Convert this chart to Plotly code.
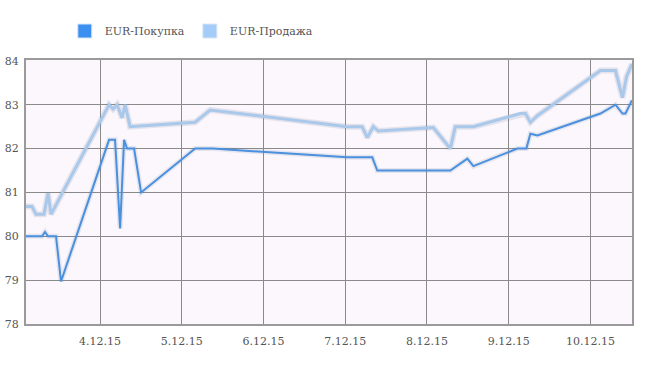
import plotly.graph_objects as go

# Data
buy_times = [
    "2015-12-03 02:15", "2015-12-03 06:57", "2015-12-03 07:50", "2015-12-03 08:43",
    "2015-12-03 11:04", "2015-12-03 12:32", "2015-12-04 02:38", "2015-12-04 04:24",
    "2015-12-04 05:53", "2015-12-04 07:03", "2015-12-04 07:56", "2015-12-04 09:59",
    "2015-12-04 12:03", "2015-12-05 03:55", "2015-12-05 09:13", "2015-12-07 00:35",
    "2015-12-07 07:56", "2015-12-07 09:24", "2015-12-08 06:51", "2015-12-08 11:51",
    "2015-12-08 13:37", "2015-12-09 02:32", "2015-12-09 05:11", "2015-12-09 06:22",
    "2015-12-09 08:25", "2015-12-10 02:56", "2015-12-10 07:21", "2015-12-10 09:24",
    "2015-12-10 10:17", "2015-12-10 12:12",
]
buy_values = [
    80.0, 80.0, 80.1, 80.0,
    80.0, 78.97, 82.2, 82.2,
    80.18, 82.2, 82.0, 82.0,
    81.0, 82.0, 82.0, 81.8,
    81.8, 81.5, 81.5, 81.77,
    81.6, 82.0, 82.0, 82.34,
    82.3, 82.8, 83.0, 82.8,
    82.8, 83.1,
]

sell_times = [
    "2015-12-03 02:15", "2015-12-03 04:01", "2015-12-03 05:11", "2015-12-03 07:32",
    "2015-12-03 08:43", "2015-12-03 09:36", "2015-12-04 02:38", "2015-12-04 03:49",
    "2015-12-04 05:00", "2015-12-04 06:28", "2015-12-04 07:21", "2015-12-04 08:49",
    "2015-12-05 03:55", "2015-12-05 08:20", "2015-12-07 00:35", "2015-12-07 04:59",
    "2015-12-07 06:28", "2015-12-07 08:14", "2015-12-07 09:42", "2015-12-08 01:52",
    "2015-12-08 06:51", "2015-12-08 08:19", "2015-12-08 13:37", "2015-12-09 03:26",
    "2015-12-09 04:54", "2015-12-09 06:22", "2015-12-09 08:25", "2015-12-10 02:56",
    "2015-12-10 07:21", "2015-12-10 09:24", "2015-12-10 10:35", "2015-12-10 12:12",
]
sell_values = [
    80.68, 80.68, 80.5, 80.5,
    80.98, 80.5, 83.0, 82.9,
    83.0, 82.7, 83.0, 82.5,
    82.6, 82.88, 82.5, 82.5,
    82.25, 82.5, 82.4, 82.48,
    82.0, 82.5, 82.5, 82.8,
    82.8, 82.6, 82.75, 83.78,
    83.78, 83.16, 83.64, 83.93,
]

tick_vals = ["2015-12-04", "2015-12-05", "2015-12-06", "2015-12-07",
             "2015-12-08", "2015-12-09", "2015-12-10"]
tick_text = ["4.12.15", "5.12.15", "6.12.15", "7.12.15", "8.12.15", "9.12.15", "10.12.15"]
y_ticks = [78, 79, 80, 81, 82, 83, 84]

series_names = ["EUR-Покупка", "EUR-Продажа"]
line_colors = ["#4a90dd", "#a9c8ea"]
legend_colors = ["#3b8ff0", "#a3cdf8"]

SERIF = "DejaVu Serif, Liberation Serif, serif"

fig = go.Figure()

# soft shadows
fig.add_trace(go.Scatter(x=sell_times, y=sell_values, mode="lines",
                         line=dict(color="rgba(120,140,170,0.18)", width=6),
                         showlegend=False, hoverinfo="skip"))
fig.add_trace(go.Scatter(x=buy_times, y=buy_values, mode="lines",
                         line=dict(color="rgba(100,130,170,0.15)", width=5),
                         showlegend=False, hoverinfo="skip"))

fig.add_trace(go.Scatter(x=sell_times, y=sell_values, mode="lines",
                         line=dict(color=line_colors[1], width=3),
                         showlegend=False, name=series_names[1]))
fig.add_trace(go.Scatter(x=buy_times, y=buy_values, mode="lines",
                         line=dict(color=line_colors[0], width=2),
                         showlegend=False, name=series_names[0]))

# legend entries with square swatches
for name, col in zip(series_names, legend_colors):
    fig.add_trace(go.Scatter(x=[None], y=[None], mode="markers", name=name,
                             marker=dict(symbol="square", size=14, color=col,
                                         line=dict(color="#d8e6f5", width=1))))

fig.update_layout(
    width=670, height=366,
    margin=dict(l=26, r=38, t=60, b=42, autoexpand=False),
    paper_bgcolor="white",
    plot_bgcolor="#fcf7fc",
    font=dict(family=SERIF, size=11, color="#555555"),
    legend=dict(orientation="h", x=0.064, xanchor="left",
                y=1 - 31 / 366, yref="container", yanchor="middle",
                font=dict(family=SERIF, size=11, color="#555555"),
                itemwidth=30, tracegroupgap=0, bgcolor="rgba(0,0,0,0)"),
    showlegend=True,
)

fig.update_xaxes(
    range=["2015-12-03 02:15", "2015-12-10 12:12"],
    tickvals=tick_vals, ticktext=tick_text, automargin=False,
    showgrid=True, gridcolor="#8a8a8a", gridwidth=1,
    showline=True, linecolor="#9a9a9a", linewidth=2, mirror=True,
    ticks="", zeroline=False, ticklabelstandoff=6,
)
fig.update_yaxes(
    range=[78, 84.02],
    tickvals=y_ticks, automargin=False,
    showgrid=True, gridcolor="#8a8a8a", gridwidth=1,
    showline=True, linecolor="#9a9a9a", linewidth=2, mirror=True,
    ticks="", zeroline=False, ticklabelstandoff=3,
)

fig.write_html("out.html", config={"displayModeBar": False},
               post_script="document.body.style.margin='0';")
